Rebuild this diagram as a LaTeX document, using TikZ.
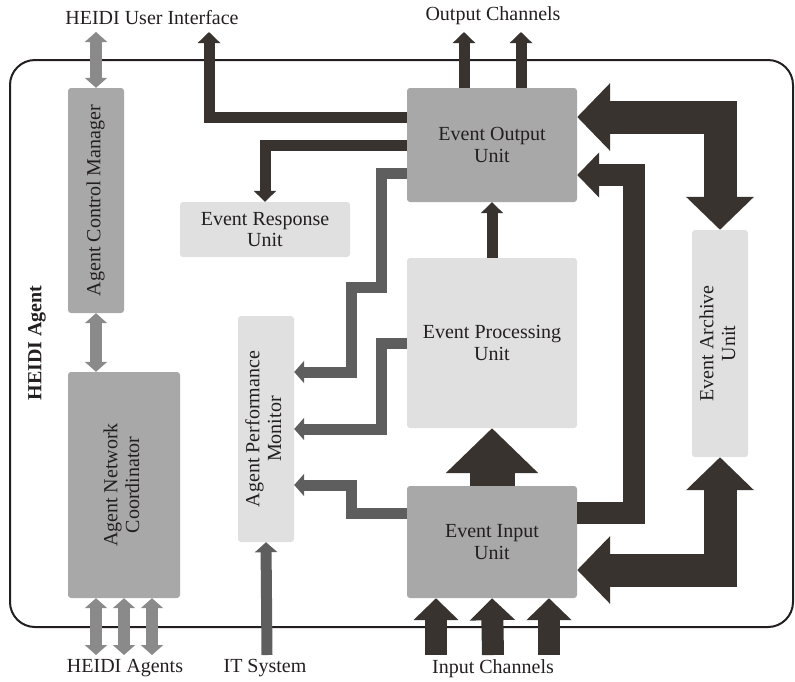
\documentclass[tikz,border=0pt]{standalone}
\usepackage{fontspec}
\setmainfont{Liberation Serif}
\usepackage{tikz}
\usetikzlibrary{arrows.meta}
\definecolor{arrowdark}{HTML}{38332F}
\definecolor{arrowmid}{HTML}{5E5E5E}
\definecolor{arrowlight}{HTML}{8A8A8A}
\definecolor{boxdark}{HTML}{A8A8A8}
\definecolor{boxlight}{HTML}{E0E0E0}
\definecolor{framecol}{HTML}{231F20}
\tikzset{
  unitbox/.style={rounded corners=3pt, inner sep=0pt, align=center, text=framecol},
  darkbox/.style={unitbox, fill=boxdark},
  lightbox/.style={unitbox, fill=boxlight},
  thinflow/.style={draw=arrowdark, line width=11pt, -{Triangle[width=22pt,length=11pt]}},
  midflow/.style={draw=arrowdark, line width=22pt, -{Triangle[width=44pt,length=22pt]}},
  monflow/.style={draw=arrowmid, line width=11pt, -{Triangle[width=22pt,length=10pt]}},
  ctrlflow/.style={draw=arrowlight, line width=12pt, {Triangle[width=22pt,length=10pt]}-{Triangle[width=22pt,length=10pt]}},
  archflow/.style={draw=arrowdark, line width=33pt, {Triangle[width=66pt,length=33pt]}-{Triangle[width=66pt,length=33pt]}},
}
\newcommand{\vtext}[1]{\rotatebox{90}{\begin{tabular}{@{}c@{}}#1\end{tabular}}}
\begin{document}
\begin{tikzpicture}[x=1pt, y=-1pt, font=\fontsize{20}{21.7}\selectfont, text=framecol]
\useasboundingbox (0,0) rectangle (795,681);

% agent frame
\draw[framecol, line width=2pt, rounded corners=25pt] (10,60) rectangle (793,627);
\node[rotate=90, font=\fontsize{20}{21.7}\selectfont\bfseries] (agent) at (37,343) {HEIDI Agent};

% units
\node[darkbox, minimum width=56pt, minimum height=225pt] (acm) at (96,200.5) {\vtext{Agent Control Manager}};
\node[darkbox, minimum width=112pt, minimum height=226pt] (anc) at (124,485) {\vtext{Agent Network\\Coordinator}};
\node[lightbox, minimum width=56pt, minimum height=226pt] (apm) at (266,429) {\vtext{Agent Performance\\Monitor}};
\node[lightbox, minimum width=170pt, minimum height=55pt] (eru) at (265,229.5) {Event Response\\Unit};
\node[darkbox, minimum width=170pt, minimum height=114pt] (eou) at (492,145) {Event Output\\Unit};
\node[lightbox, minimum width=170pt, minimum height=170pt] (epu) at (492,343) {Event Processing\\Unit};
\node[darkbox, minimum width=170pt, minimum height=112pt] (eiu) at (492,542) {Event Input\\Unit};
\node[lightbox, minimum width=56pt, minimum height=227pt] (eau) at (720,343.5) {\vtext{Event Archive\\Unit}};

% outside labels
\node (uilabel) at (152,18) {HEIDI User Interface};
\node (outlabel) at (493,16) {Output Channels};
\node (agentslabel) at (125,668) {HEIDI Agents};
\node (itlabel) at (265,668) {IT System};
\node (inlabel) at (493,669) {Input Channels};

% free ends
\coordinate (ui) at (209,32);
\coordinate (uictrl) at (96,32);
\coordinate (oc1) at (464,32);
\coordinate (oc2) at (521,32);
\coordinate (ha1) at (96,655);
\coordinate (ha2) at (124,655);
\coordinate (ha3) at (152,655);
\coordinate (its) at (267,655);
\coordinate (ic1) at (436,655);
\coordinate (ic2) at (493,655);
\coordinate (ic3) at (549,655);

% control
\draw[ctrlflow] (uictrl) -- (acm.north);
\draw[ctrlflow] (acm.south) -- (acm.south |- anc.north);
\draw[ctrlflow] ([xshift=-28pt]anc.south) -- (ha1);
\draw[ctrlflow] (anc.south) -- (ha2);
\draw[ctrlflow] ([xshift=28pt]anc.south) -- (ha3);

% monitoring
\draw[monflow] (its) -- (apm.south);
\draw[monflow, line join=miter] ([yshift=-28pt]eou.west) -| (381,287) -| (351,372) -- ([yshift=57pt]apm.east);
\draw[monflow, line join=miter] (epu.west) -| (381,429) -- (apm.east);
\draw[monflow, line join=miter] ([yshift=29pt]eiu.west) -| (351,485) -- ([yshift=-56pt]apm.east);

% event flow
\draw[thinflow, line join=miter] ([yshift=28pt]eou.west) -| (ui);
\draw[thinflow, line join=miter] (eou.west) -| (eru.north);
\draw[thinflow] ([xshift=-28pt]eou.north) -- (oc1);
\draw[thinflow] ([xshift=29pt]eou.north) -- (oc2);
\draw[thinflow] (epu.north) -- (eou.south);
\draw[draw=arrowdark, line width=45pt, -{Triangle[width=90pt,length=45pt]}] (eiu.north) -- (epu.south);
\draw[midflow, line join=miter] ([yshift=29pt]eiu.east) -| (634,175) -- ([yshift=-30pt]eou.east);
\draw[midflow] (ic1) -- ([xshift=-56pt]eiu.south);
\draw[midflow] (ic2) -- (eiu.south);
\draw[midflow] (ic3) -- ([xshift=57pt]eiu.south);

% archive
\draw[archflow, line join=miter] ([yshift=28pt]eou.east) -| (eau.north);
\draw[archflow, line join=miter] (eau.south) |- ([yshift=-28pt]eiu.east);

\end{tikzpicture}
\end{document}
